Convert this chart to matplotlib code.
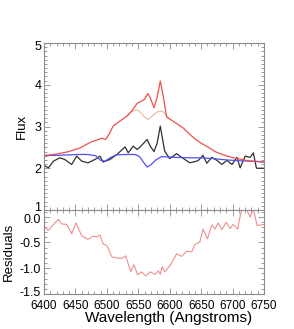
import matplotlib
matplotlib.use("Agg")
import matplotlib.pyplot as plt
from matplotlib.ticker import MultipleLocator
from matplotlib.transforms import ScaledTranslation

plt.rcParams['font.family'] = ['Liberation Sans', 'DejaVu Sans']

# --- data ---
red_wl = [6400, 6410, 6420, 6430, 6440, 6447, 6455, 6465, 6475, 6485, 6492, 6498,
          6503, 6510, 6520, 6532, 6540, 6548, 6555, 6560, 6565, 6569, 6575, 6580,
          6585, 6590, 6595, 6600, 6610, 6621, 6630, 6638, 6650, 6664, 6672, 6680,
          6690, 6701, 6715, 6728, 6740, 6750]
red_flux = [2.31, 2.32, 2.34, 2.37, 2.40, 2.44, 2.47, 2.55, 2.63, 2.68, 2.72, 2.69,
            2.80, 3.01, 3.12, 3.25, 3.38, 3.55, 3.61, 3.65, 3.79, 3.69, 3.45, 3.70,
            4.09, 3.70, 3.23, 3.18, 3.08, 2.97, 2.84, 2.73, 2.60, 2.48, 2.40, 2.35,
            2.30, 2.25, 2.21, 2.17, 2.16, 2.15]

pink_wl = [6532, 6540, 6548, 6555, 6560, 6566, 6572, 6580, 6588, 6593, 6598]
pink_flux = [3.25, 3.36, 3.40, 3.32, 3.22, 3.17, 3.25, 3.35, 3.37, 3.30, 3.19]

black_wl = [6400, 6402, 6407, 6415, 6425, 6433, 6444, 6452, 6460, 6470, 6481, 6489,
            6494, 6505, 6516, 6529, 6534, 6542, 6548, 6553, 6564, 6569, 6575, 6580,
            6585, 6592, 6600, 6611, 6619, 6632, 6645, 6653, 6659, 6667, 6675, 6683,
            6691, 6699, 6707, 6712, 6720, 6728, 6733, 6738, 6750]
black_flux = [2.08, 2.05, 2.01, 2.17, 2.25, 2.21, 2.09, 2.29, 2.17, 2.13, 2.21, 2.29,
              2.15, 2.21, 2.33, 2.51, 2.37, 2.53, 2.45, 2.51, 2.69, 2.53, 2.40, 2.60,
              3.01, 2.41, 2.23, 2.35, 2.26, 2.13, 2.18, 2.31, 2.12, 2.26, 2.19, 2.09,
              2.19, 2.09, 2.26, 2.01, 2.29, 2.26, 2.37, 2.00, 2.00]

blue_wl = [6400, 6420, 6440, 6455, 6470, 6482, 6490, 6497, 6505, 6515, 6530, 6545,
           6552, 6558, 6564, 6570, 6578, 6587, 6595, 6610, 6630, 6650, 6670, 6690,
           6710, 6730, 6750]
blue_flux = [2.30, 2.31, 2.32, 2.33, 2.33, 2.30, 2.19, 2.17, 2.25, 2.32, 2.33, 2.33,
             2.28, 2.15, 2.03, 2.08, 2.20, 2.28, 2.27, 2.26, 2.25, 2.25, 2.23, 2.20,
             2.18, 2.17, 2.15]

res_wl = [6400, 6402, 6407, 6412, 6423, 6428, 6436, 6444, 6451, 6460, 6470, 6478,
          6484, 6489, 6494, 6500, 6508, 6516, 6524, 6530, 6538, 6543, 6549, 6555,
          6562, 6569, 6577, 6582, 6585, 6588, 6592, 6601, 6611, 6619, 6627, 6635,
          6640, 6648, 6653, 6660, 6667, 6672, 6677, 6683, 6690, 6696, 6701, 6708,
          6714, 6722, 6728, 6733, 6739, 6750]
res_val = [-0.22, -0.21, -0.27, -0.19, -0.05, -0.14, -0.15, -0.33, -0.12, -0.37, -0.44, -0.38,
           -0.39, -0.36, -0.53, -0.56, -0.78, -0.80, -0.81, -0.76, -1.07, -0.93, -1.13, -1.07,
           -1.15, -1.07, -1.12, -1.05, -1.12, -0.97, -1.07, -0.94, -0.72, -0.77, -0.67, -0.68,
           -0.54, -0.49, -0.24, -0.43, -0.16, -0.24, -0.12, -0.25, -0.11, -0.23, -0.15, -0.24,
           0.12, 0.15, -0.01, 0.16, -0.17, -0.15]

x_ticks = [6400, 6450, 6500, 6550, 6600, 6650, 6700, 6750]
flux_ticks = [1, 2, 3, 4, 5]
res_ticks = [-1.5, -1.0, -0.5, 0.0]

W, H = 294, 329
fig = plt.figure(figsize=(W / 100, H / 100), dpi=100)
left, right = 44 / W, 264 / W
ax1 = fig.add_axes([left, 1 - 210 / H, right - left, 167 / H])
ax2 = fig.add_axes([left, 1 - 294 / H, right - left, 84 / H])

fs_x = 8.5
fs_y = 9
spine_col = '0.55'
for ax in (ax1, ax2):
    for s in ax.spines.values():
        s.set_color(spine_col)
        s.set_linewidth(0.8)
    ax.set_xlim(6400, 6750)
    ax.xaxis.set_minor_locator(MultipleLocator(10))
    ax.tick_params(which='both', direction='in', top=True, right=True,
                   color=spine_col, width=0.6)
    ax.tick_params(axis='x', labelsize=fs_x, pad=4.5)
    ax.tick_params(axis='y', labelsize=fs_y, pad=2)
    ax.tick_params(which='major', length=4)
    ax.tick_params(which='minor', length=2)
    ax.set_xticks(x_ticks)

ax1.plot(pink_wl, pink_flux, color='#e8bfb0', lw=0.9)
ax1.plot(black_wl, black_flux, color='#303030', lw=0.9)
ax1.plot(blue_wl, blue_flux, color='#5050f0', lw=0.9)
ax1.plot(red_wl, red_flux, color='#f05050', lw=0.9)
ax1.set_ylim(1, 5)
ax1.set_yticks(flux_ticks)
ax1.set_yticklabels([str(v) for v in flux_ticks])
ax1.yaxis.set_minor_locator(MultipleLocator(0.1))
ax1.tick_params(axis='x', labelbottom=False)
ax1.set_ylabel('Flux', fontsize=9.5)
ax1.yaxis.set_label_coords(-0.074, 0.5)

ax2.plot(res_wl, res_val, color='#f09090', lw=0.8)
ax2.set_ylim(-1.5, 0.13)
ax2.set_yticks(res_ticks)
ax2.set_yticklabels(['%.1f' % v for v in res_ticks])
ax2.yaxis.set_minor_locator(MultipleLocator(0.1))
ax2.set_xticklabels([str(v) for v in x_ticks])
ax2.set_ylabel('Residuals', fontsize=9.5)
ax2.yaxis.set_label_coords(-0.133, 0.5)
ax2.set_xlabel('Wavelength (Angstroms)', fontsize=11)
ax2.xaxis.set_label_coords(0.564, -0.2)

# small vertical nudges of end labels, as in the reference
def nudge(label, dy_px):
    label.set_transform(label.get_transform() +
                        ScaledTranslation(0, dy_px / 100, fig.dpi_scale_trans))

lab1 = ax1.get_yticklabels()
nudge(lab1[0], 3.5)
nudge(lab1[-1], -2)
lab2 = ax2.get_yticklabels()
nudge(lab2[0], 2.5)
nudge(lab2[-1], -1.5)

fig.savefig('out.png', dpi=100)
